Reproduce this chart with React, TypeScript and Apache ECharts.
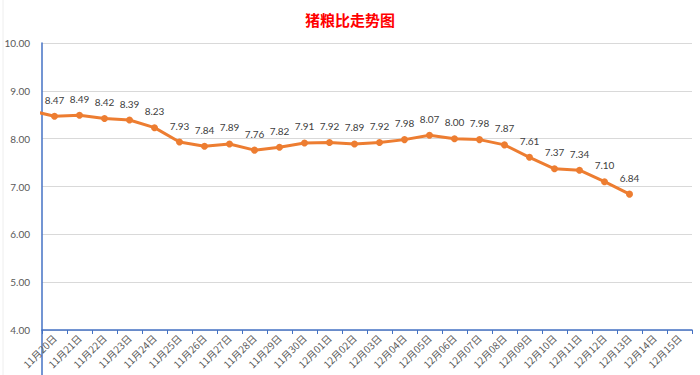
import React, { useEffect, useRef } from "react";
import * as echarts from "echarts";

const title = "猪粮比走势图";
// first category lies just before the visible window (the line enters from the left edge)
const categories = [
  "11月19日",
  "11月20日", "11月21日", "11月22日", "11月23日", "11月24日", "11月25日", "11月26日",
  "11月27日", "11月28日", "11月29日", "11月30日", "12月01日", "12月02日", "12月03日",
  "12月04日", "12月05日", "12月06日", "12月07日", "12月08日", "12月09日", "12月10日",
  "12月11日", "12月12日", "12月13日", "12月14日", "12月15日",
];
const ratioValues = [
  8.59,
  8.47, 8.49, 8.42, 8.39, 8.23, 7.93, 7.84, 7.89, 7.76, 7.82, 7.91, 7.92, 7.89, 7.92,
  7.98, 8.07, 8.0, 7.98, 7.87, 7.61, 7.37, 7.34, 7.1, 6.84,
];
const yTicks = [4, 5, 6, 7, 8, 9, 10];

export default function App() {
  const ref = useRef<HTMLDivElement>(null);
  useEffect(() => {
    if (!ref.current) return;
    const chart = echarts.init(ref.current, null, { renderer: "svg" });
    const blue = "#4472C4";
    chart.setOption({
      animation: false,
      backgroundColor: "#ffffff",
      title: {
        text: title,
        left: "center",
        top: 7,
        textStyle: {
          color: "#FF0000",
          fontSize: 15,
          fontWeight: "bold",
          fontFamily: "Noto Sans CJK SC",
        },
      },
      grid: { left: 42, right: 8, top: 43, bottom: 45, containLabel: false },
      graphic: [
        {
          type: "line",
          shape: { x1: 42, y1: 330, x2: 42, y2: 375 },
          style: { stroke: blue, lineWidth: 1.5 },
        },
        {
          type: "line",
          shape: { x1: 3, y1: 0, x2: 3, y2: 375 },
          style: { stroke: "#EEEEEE", lineWidth: 1 },
        },
      ],
      xAxis: {
        type: "category",
        data: categories,
        min: 1,
        boundaryGap: true,
        axisLine: { show: true, lineStyle: { color: blue, width: 1.5 } },
        axisTick: { show: true, length: 4, lineStyle: { color: blue } },
        axisLabel: {
          rotate: 45,
          interval: 0,
          color: "#595959",
          fontSize: 10,
          margin: 6,
          fontFamily: "Noto Sans CJK SC",
        },
        splitLine: { show: false },
      },
      yAxis: {
        type: "value",
        min: yTicks[0],
        max: yTicks[yTicks.length - 1],
        interval: 1,
        axisLine: { show: true, lineStyle: { color: blue, width: 1.5 } },
        axisTick: { show: false },
        axisLabel: {
          color: "#595959",
          fontSize: 10,
          margin: 12,
          fontFamily: "Lato",
          formatter: (v: number) => v.toFixed(2),
        },
        splitLine: { show: true, lineStyle: { color: "#D9D9D9", width: 1 } },
      },
      series: [
        {
          type: "line",
          data: ratioValues.map((v, i) =>
            i === 0
              ? { value: v, symbol: "none", label: { show: false } }
              : v
          ),
          clip: true,
          symbol: "circle",
          symbolSize: 7,
          itemStyle: { color: "#ED7D31" },
          lineStyle: { color: "#ED7D31", width: 3 },
          label: {
            show: true,
            position: "top",
            distance: 8,
            color: "#404040",
            fontSize: 10,
            fontFamily: "Lato",
            formatter: (p: any) => Number(p.value).toFixed(2),
          },
        },
      ],
    });
    return () => chart.dispose();
  }, []);
  return (
    <div
      ref={ref}
      style={{
        position: "fixed",
        left: 0,
        top: 0,
        width: 700,
        height: 375,
      }}
    />
  );
}
